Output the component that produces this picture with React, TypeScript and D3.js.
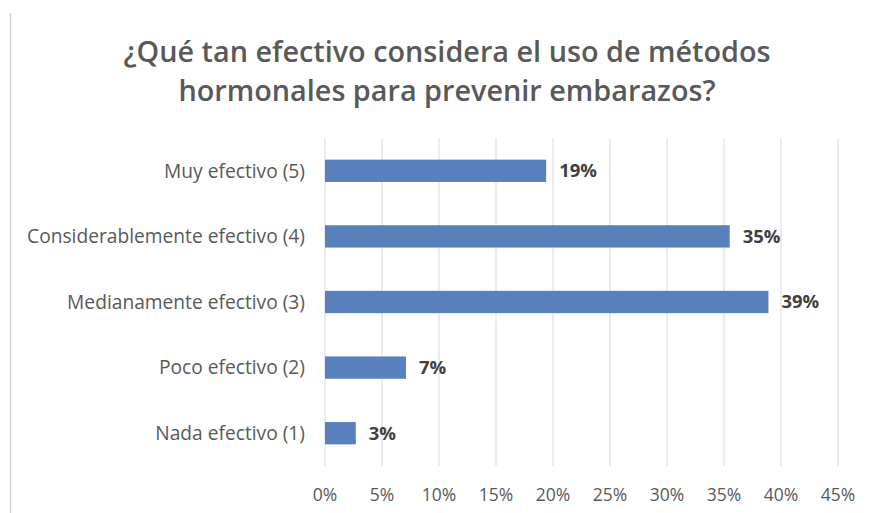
import React from "react";
import * as d3 from "d3";

const categories = [
  "Muy efectivo (5)",
  "Considerablemente efectivo (4)",
  "Medianamente efectivo (3)",
  "Poco efectivo (2)",
  "Nada efectivo (1)",
];
const values = [19.4, 35.5, 38.9, 7.1, 2.7];
const labels = ["19%", "35%", "39%", "7%", "3%"];
const ticks = [0, 5, 10, 15, 20, 25, 30, 35, 40, 45];
const titleLines = [
  "¿Qué tan efectivo considera el uso de métodos",
  "hormonales para prevenir embarazos?",
];

const W = 872;
const H = 513;
const FONT = "'Open Sans', 'Noto Sans', sans-serif";

export default function App() {
  const x = d3.scaleLinear().domain([0, 45]).range([325, 838]);
  const y = d3
    .scaleBand<string>()
    .domain(categories)
    .range([138, 466])
    .paddingInner(0.66)
    .paddingOuter(0.33);

  return (
    <svg
      width={W}
      height={H}
      style={{ position: "absolute", left: 0, top: 0, background: "#fff" }}
      fontFamily={FONT}
    >
      <rect x={0} y={0} width={W} height={H} fill="#fff" />
      <line x1={10.5} x2={10.5} y1={13} y2={H} stroke="#d0d0d0" strokeWidth={1.5} />
      {titleLines.map((t, i) => (
        <text
          key={i}
          x={447}
          y={62 + i * 39}
          textAnchor="middle"
          fontSize={28.8}
          fontWeight={600}
          fill="#595959"
        >
          {t}
        </text>
      ))}
      {ticks.map((t) => (
        <g key={t}>
          <line
            x1={x(t)}
            x2={x(t)}
            y1={138}
            y2={466}
            stroke="#d9d9d9"
            strokeWidth={1}
          />
          <text
            x={x(t)}
            y={501}
            textAnchor="middle"
            fontSize={17.5}
            fill="#595959"
          >
            {t}%
          </text>
        </g>
      ))}
      {categories.map((c, i) => {
        const by = y(c)!;
        const bh = y.bandwidth();
        return (
          <g key={c}>
            <rect
              x={x(0)}
              y={by}
              width={x(values[i]) - x(0)}
              height={bh}
              fill="#5880bd"
            />
            <text
              x={305}
              y={by + bh / 2}
              dy="0.35em"
              textAnchor="end"
              fontSize={19.2}
              fill="#595959"
            >
              {c}
            </text>
            <text
              x={x(values[i]) + 13}
              y={by + bh / 2}
              dy="0.35em"
              fontSize={18.5}
              fontWeight={700}
              fill="#404040"
            >
              {labels[i]}
            </text>
          </g>
        );
      })}
    </svg>
  );
}
